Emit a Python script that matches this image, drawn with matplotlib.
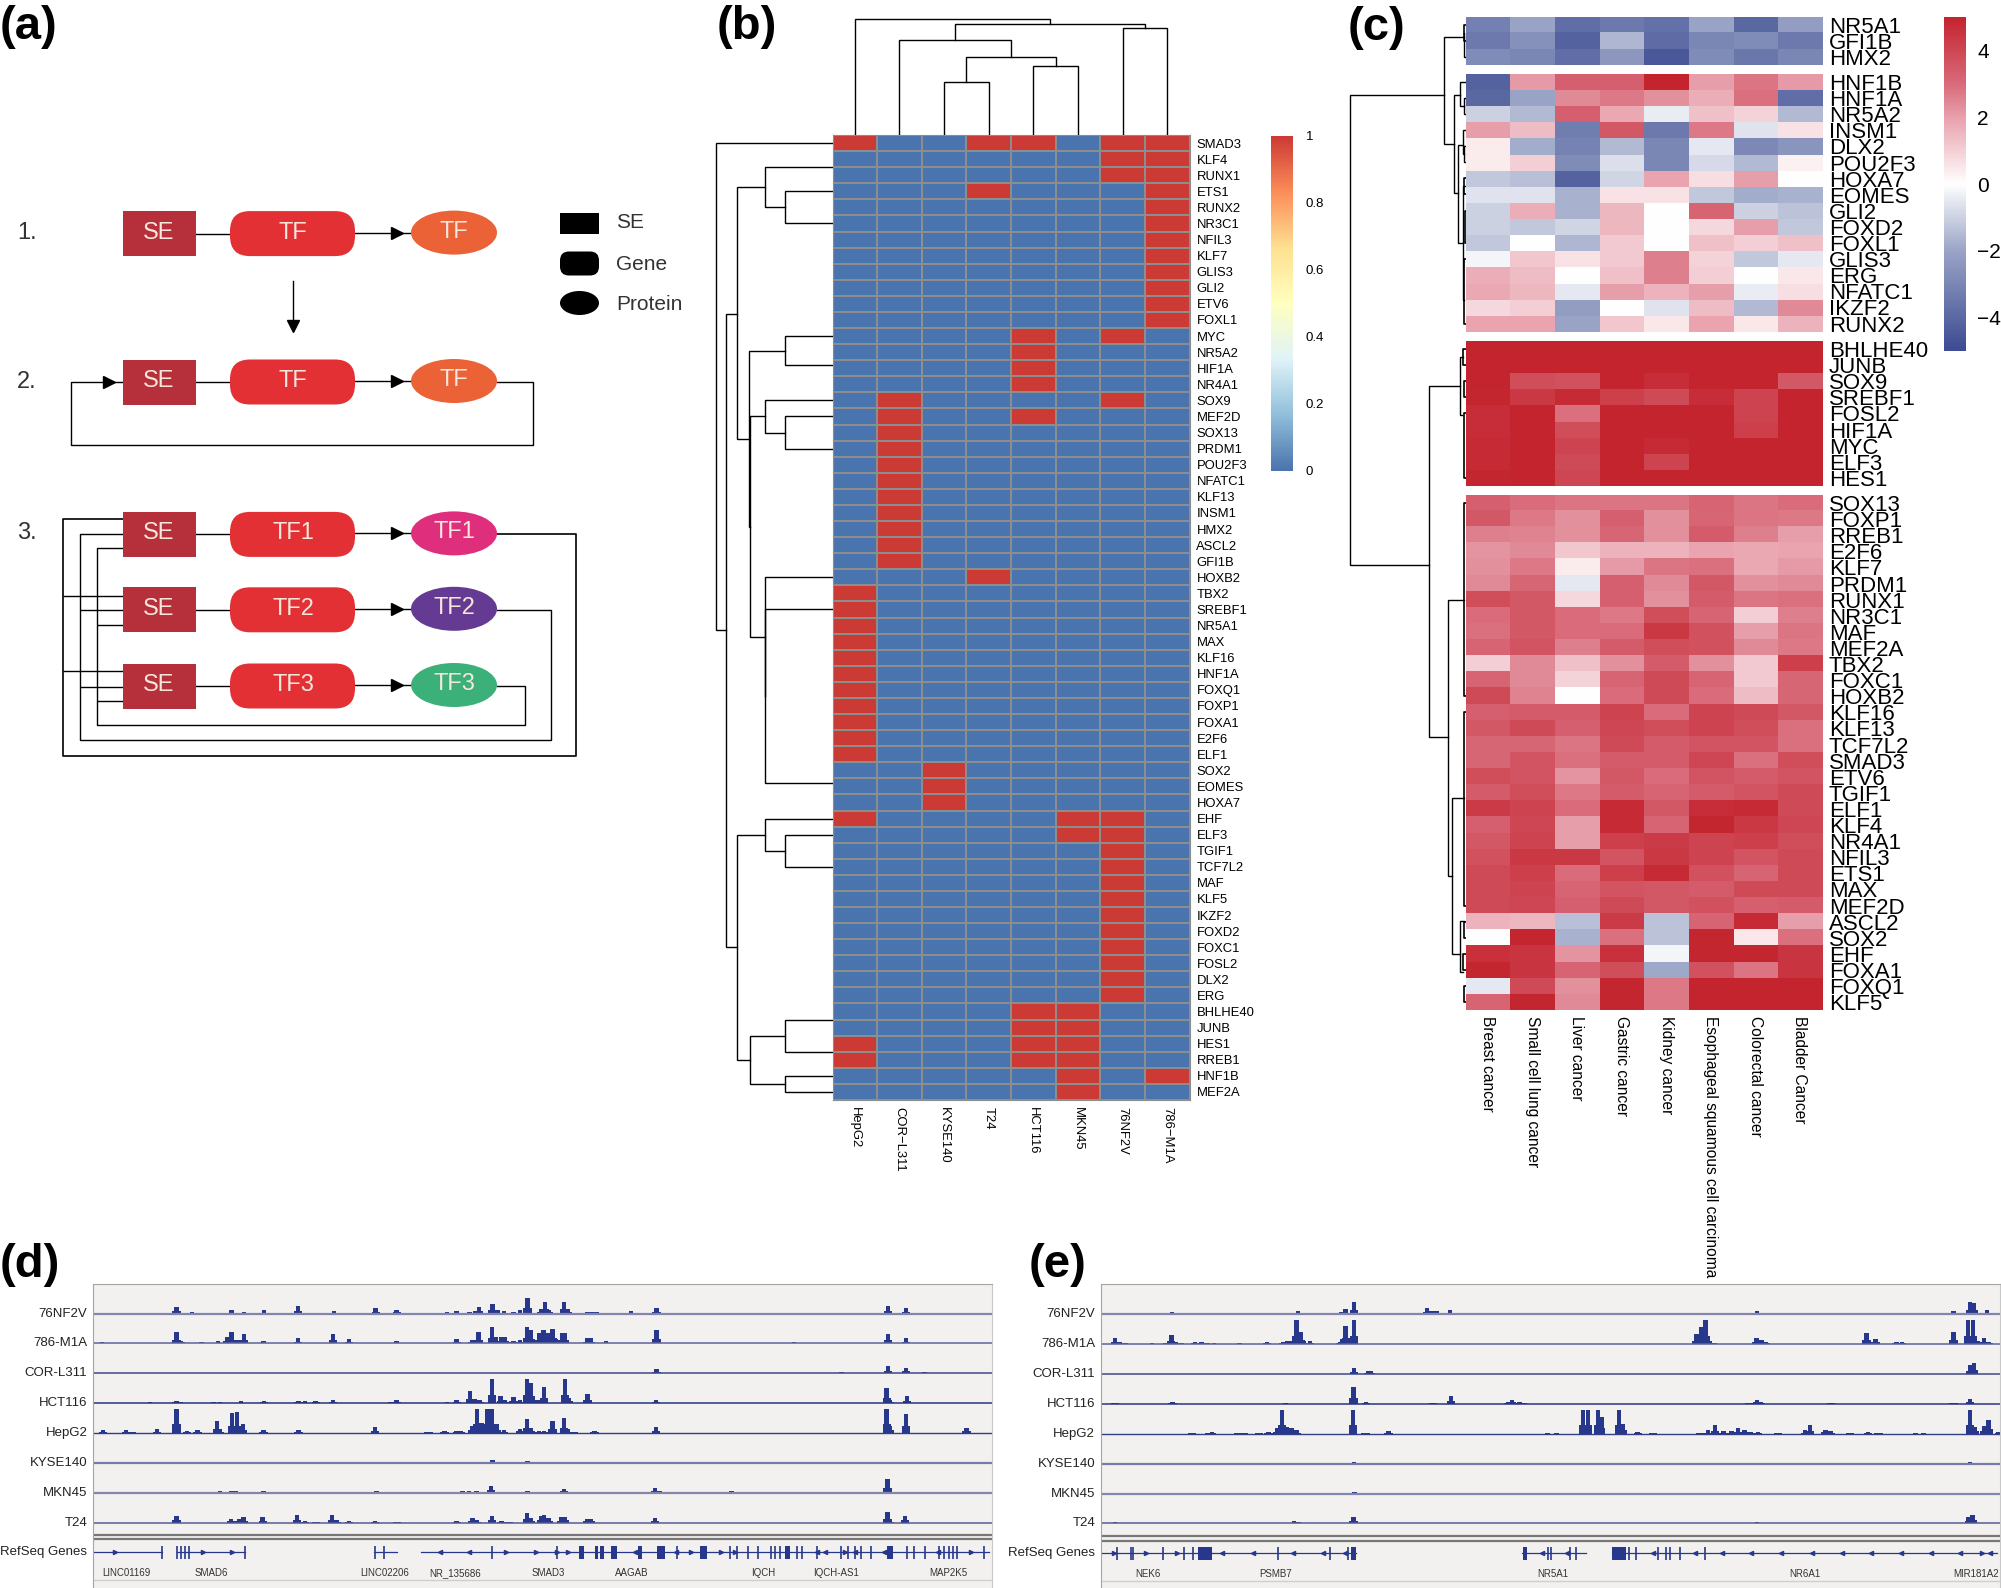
import numpy as np
import matplotlib
matplotlib.use('Agg')
import matplotlib.pyplot as plt
from matplotlib.colors import LinearSegmentedColormap
from matplotlib.patches import Rectangle, FancyBboxPatch, Ellipse

plt.rcParams['font.family'] = ['Liberation Sans', 'DejaVu Sans']

W, H = 2001, 1588

# panel b
b_cols = ['HepG2', 'COR\u2212L311', 'KYSE140', 'T24', 'HCT116', 'MKN45', '76NF2V', '786\u2212M1A']
b_rows = ['SMAD3', 'KLF4', 'RUNX1', 'ETS1', 'RUNX2', 'NR3C1', 'NFIL3', 'KLF7', 'GLIS3', 'GLI2', 'ETV6', 'FOXL1',
          'MYC', 'NR5A2', 'HIF1A', 'NR4A1', 'SOX9', 'MEF2D', 'SOX13', 'PRDM1', 'POU2F3', 'NFATC1', 'KLF13', 'INSM1',
          'HMX2', 'ASCL2', 'GFI1B', 'HOXB2', 'TBX2', 'SREBF1', 'NR5A1', 'MAX', 'KLF16', 'HNF1A', 'FOXQ1', 'FOXP1',
          'FOXA1', 'E2F6', 'ELF1', 'SOX2', 'EOMES', 'HOXA7', 'EHF', 'ELF3', 'TGIF1', 'TCF7L2', 'MAF', 'KLF5', 'IKZF2',
          'FOXD2', 'FOXC1', 'FOSL2', 'DLX2', 'ERG', 'BHLHE40', 'JUNB', 'HES1', 'RREB1', 'HNF1B', 'MEF2A']
b_on = ['10011011', '00000011', '00000011', '00010001', '00000001', '00000001', '00000001', '00000001', '00000001',
        '00000001', '00000001', '00000001', '00001010', '00001000', '00001000', '00001000', '01000010', '01001000',
        '01000000', '01000000', '01000000', '01000000', '01000000', '01000000', '01000000', '01000000', '01000000',
        '00010000', '10000000', '10000000', '10000000', '10000000', '10000000', '10000000', '10000000', '10000000',
        '10000000', '10000000', '10000000', '00100000', '00100000', '00100000', '10000110', '00000110', '00000010',
        '00000010', '00000010', '00000010', '00000010', '00000010', '00000010', '00000010', '00000010', '00000010',
        '00001100', '00001100', '10001100', '10001100', '00000101', '00000100']
b_cbar_ticks = [0, 0.2, 0.4, 0.6, 0.8, 1]
b_cbar_labels = ['0', '0.2', '0.4', '0.6', '0.8', '1']

# (pos a, dist a, pos b, dist b, dist)
b_top_merges = [(2.5, 0, 3.5, 0, 53), (4.5, 0, 5.5, 0, 69), (3, 53, 5, 69, 78), (1.5, 0, 4, 78, 95),
                (6.5, 0, 7.5, 0, 107), (2.75, 95, 7, 107, 111), (0.5, 0, 4.875, 111, 116)]
b_left_merges = [(3.5, 0, 5.5, 0, 47.6), (2, 0, 4.5, 47.6, 67.3), (12.5, 0, 14.3, 0, 47.6), (17.5, 0, 19.5, 0, 47.6),
                 (16.5, 0, 18.5, 47.6, 67.3), (29.5, 0, 40.3, 0, 67.3), (27.5, 0, 34.9, 67.3, 67.3),
                 (17.5, 67.3, 31.2, 67.3, 83), (13.4, 47.6, 24.35, 83, 84), (3.25, 67.3, 18.9, 84, 95.5),
                 (43.5, 0, 45.5, 0, 47.6), (42.5, 0, 44.5, 47.6, 67.3), (55, 0, 57, 0, 47.6), (58.5, 0, 59.5, 0, 47.6),
                 (56, 47.6, 59, 47.6, 83), (43.5, 67.3, 57.5, 83, 95.5), (11.1, 95.5, 50.5, 95.5, 106.5),
                 (0.5, 0, 30.8, 106.5, 116.6)]

# panel c
c_cols = ['Breast cancer', 'Small cell lung cancer', 'Liver cancer', 'Gastric cancer', 'Kidney cancer',
          'Esophageal squamous cell carcinoma', 'Colorectal cancer', 'Bladder Cancer']
c_rows1 = ['NR5A1', 'GFI1B', 'HMX2']
c_vals1 = [[-3.2, -2.0, -3.8, -3.4, -3.7, -2.0, -4.0, -2.2],
           [-3.4, -2.6, -4.2, -1.6, -3.9, -3.0, -2.8, -3.4],
           [-2.8, -3.0, -3.8, -2.4, -4.5, -2.8, -3.5, -3.0]]
c_rows2 = ['HNF1B', 'HNF1A', 'NR5A2', 'INSM1', 'DLX2', 'POU2F3', 'HOXA7', 'EOMES', 'GLI2', 'FOXD2', 'FOXL1', 'GLIS3',
           'ERG', 'NFATC1', 'IKZF2', 'RUNX2']
c_vals2 = [[-4.2, 2.1, 3.3, 3.3, 5.0, 2.0, 2.8, 2.1],
           [-4.0, -2.0, 2.4, 2.7, 2.3, 1.7, 2.9, -3.8],
           [-1.0, -1.5, 3.3, 1.8, -0.4, 1.3, 0.9, -1.5],
           [2.0, 1.4, -3.3, 3.5, -3.4, 2.7, -0.6, 0.6],
           [0.4, -1.8, -3.1, -1.5, -3.0, -0.5, -2.9, -2.5],
           [0.4, 1.0, -2.8, -0.7, -3.0, -0.8, -1.5, 0.3],
           [-1.2, -1.4, -4.2, -0.9, 1.9, 0.7, 2.0, 0.0],
           [-0.6, -0.6, -1.7, 0.6, 0.6, -1.2, -1.8, -1.7],
           [-1.0, 1.7, -1.7, 1.5, 0.0, 3.2, -1.0, -1.3],
           [-1.0, -1.2, -0.9, 1.5, 0.0, 0.8, 2.0, -1.2],
           [-1.2, 0.0, -1.6, 1.1, 0.0, 1.3, 1.0, 1.3],
           [-0.2, 1.2, 0.6, 1.1, 2.6, 0.9, -1.2, -0.5],
           [1.7, 1.4, 0.0, 1.3, 2.6, 1.0, 0.0, 0.5],
           [1.8, 1.5, -0.5, 2.0, 1.6, 2.0, -0.4, 0.7],
           [0.8, 1.0, -2.2, 0.0, -0.6, 1.4, -1.5, 2.4],
           [1.9, 1.9, -2.0, 1.2, 0.5, 1.9, 0.5, 1.6]]
c_rows3 = ['BHLHE40', 'JUNB', 'SOX9', 'SREBF1', 'FOSL2', 'HIF1A', 'MYC', 'ELF3', 'HES1']
c_vals3 = [[5, 5, 5, 5, 5, 5, 5, 5],
           [5, 5, 5, 5, 5, 5, 5, 5],
           [5, 3.8, 3.7, 5, 4.7, 5, 5, 3.5],
           [4.9, 4.4, 4.8, 4.2, 3.9, 4.7, 4.1, 5],
           [4.7, 5, 2.9, 5, 5, 5, 4.1, 5],
           [4.7, 5, 3.8, 5, 5, 5, 4.2, 5],
           [4.8, 5, 4.1, 5, 4.8, 5, 5, 5],
           [4.8, 5, 3.9, 5, 4.1, 5, 5, 5],
           [4.9, 5, 4.0, 5, 5, 5, 5, 5]]
c_rows4 = ['SOX13', 'FOXP1', 'RREB1', 'E2F6', 'KLF7', 'PRDM1', 'RUNX1', 'NR3C1', 'MAF', 'MEF2A', 'TBX2', 'FOXC1',
           'HOXB2', 'KLF16', 'KLF13', 'TCF7L2', 'SMAD3', 'ETV6', 'TGIF1', 'ELF1', 'KLF4', 'NR4A1', 'NFIL3', 'ETS1',
           'MAX', 'MEF2D', 'ASCL2', 'SOX2', 'EHF', 'FOXA1', 'FOXQ1', 'KLF5']
c_vals4 = [[3.3, 3.0, 2.8, 2.8, 2.8, 3.2, 2.8, 3.0],
           [3.5, 2.7, 2.3, 3.3, 2.3, 3.1, 2.8, 2.7],
           [2.6, 2.5, 2.3, 3.1, 2.3, 3.4, 2.6, 2.0],
           [2.2, 2.4, 1.2, 1.6, 1.6, 1.9, 1.8, 1.9],
           [2.3, 2.7, 0.4, 2.1, 2.8, 2.9, 1.8, 2.1],
           [2.4, 3.1, -0.5, 3.3, 2.4, 3.5, 2.3, 2.4],
           [3.8, 3.5, 0.8, 3.3, 2.3, 3.4, 2.8, 2.9],
           [3.0, 3.5, 3.0, 2.7, 3.8, 3.2, 1.0, 2.6],
           [2.9, 3.5, 3.0, 3.0, 4.4, 3.7, 2.0, 2.8],
           [3.2, 3.6, 2.6, 3.4, 3.8, 3.7, 2.4, 2.7],
           [1.0, 2.4, 1.3, 2.3, 3.4, 2.3, 1.1, 4.2],
           [3.2, 2.4, 0.9, 3.2, 3.9, 3.2, 1.1, 3.1],
           [3.9, 2.5, 0.0, 3.0, 3.9, 3.0, 1.4, 3.1],
           [3.3, 3.4, 3.4, 4.1, 3.0, 4.1, 3.9, 3.5],
           [3.5, 3.9, 3.3, 4.0, 3.8, 4.1, 3.8, 2.9],
           [3.1, 3.1, 2.8, 3.9, 3.4, 3.6, 3.6, 2.9],
           [3.1, 3.6, 2.9, 3.4, 3.4, 4.0, 2.9, 3.8],
           [3.8, 3.6, 2.2, 3.5, 3.0, 3.6, 3.4, 3.6],
           [3.4, 3.8, 2.7, 3.4, 3.2, 3.4, 3.6, 3.9],
           [4.3, 4.1, 3.0, 4.8, 3.5, 4.7, 4.8, 3.9],
           [3.3, 4.0, 2.0, 4.8, 3.2, 4.9, 4.4, 4.0],
           [3.5, 4.1, 2.0, 4.2, 4.3, 4.1, 4.2, 3.8],
           [3.7, 4.4, 4.4, 3.6, 4.4, 4.1, 3.6, 3.9],
           [3.9, 4.2, 3.0, 4.2, 4.8, 3.7, 3.2, 3.9],
           [3.9, 4.1, 3.2, 3.6, 3.5, 3.4, 3.9, 3.9],
           [3.9, 4.0, 3.3, 3.9, 3.5, 3.7, 3.3, 3.4],
           [1.6, 1.5, -1.4, 4.3, -1.3, 3.2, 4.8, 2.0],
           [0.0, 4.9, -1.7, 2.9, -1.3, 4.9, 0.5, 2.9],
           [4.6, 4.5, 2.2, 4.6, -0.2, 4.9, 4.9, 4.5],
           [4.9, 4.5, 3.2, 3.8, -1.9, 3.7, 2.8, 4.5],
           [-0.5, 3.9, 2.3, 4.9, 2.7, 5.0, 5.0, 5.0],
           [3.2, 4.9, 2.4, 4.9, 2.7, 5.0, 5.0, 5.0]]
c_cbar_ticks = [-4, -2, 0, 2, 4]

c_merges = [(33, 1.5, 57, 0, 2), (37.3, 2, 143.7, 12, 22), (82, 0, 106, 2, 5.5), (98, 0, 114, 0, 2),
            (130, 0, 154, 1.5, 3), (146, 0, 162, 0, 1.5), (95, 5.5, 193, 7.5, 12), (145, 3, 243, 3, 7.5),
            (186, 0, 300, 2, 3), (94.7, 22, 565.4, 37, 116), (357, 2.5, 415, 3.5, 5.5), (386, 5.5, 737, 18, 37),
            (600, 1.5, 875.7, 14, 18), (797.5, 1.5, 954, 5.5, 14), (921, 1.5, 972, 2.5, 5.5)]
# (first pos, last pos, dist)
c_combs = [(25, 41, 1.5), (178, 194, 1.5), (211, 243, 1), (259, 324, 2), (349, 365, 2.5), (381, 397, 2),
           (413, 478, 1.5), (503, 696, 1.5), (712, 906, 1.5), (922, 938, 1.5), (954, 970, 2.5), (986, 1002, 2)]

# panel d, peaks as (position, height)
d_tracks = ['76NF2V', '786-M1A', 'COR-L311', 'HCT116', 'HepG2', 'KYSE140', 'MKN45', 'T24']
d_base = [222, 311, 400, 490, 579, 668, 758, 848]
d_76nf2v = [(162, 3), (277, 20), (301, 4), (363, 10), (383, 6), (414, 10), (452, 3), (467, 22), (524, 7), (589, 16),
            (622, 11), (701, 5), (716, 9), (736, 6), (745, 8), (751, 20), (772, 30), (780, 10), (790, 8), (805, 6),
            (815, 10), (827, 48), (848, 14), (854, 36), (860, 12), (884, 36), (890, 14), (921, 6), (927, 6), (935, 4),
            (989, 7), (1029, 17), (1392, 22), (1420, 17)]
d_786m1a = [(160, 3), (277, 33), (283, 8), (316, 3), (342, 6), (357, 20), (363, 33), (374, 10), (383, 28), (413, 6),
            (467, 15), (522, 28), (547, 14), (622, 7), (716, 12), (741, 10), (750, 33), (771, 48), (778, 20), (786, 18),
            (792, 18), (805, 8), (815, 10), (826, 48), (832, 40), (845, 30), (852, 40), (858, 30), (866, 44), (872, 14),
            (881, 30), (886, 32), (920, 16), (926, 16), (950, 6), (1029, 40), (1245, 3), (1392, 28), (1420, 15)]
d_corl311 = [(1029, 11), (1319, 3), (1392, 20), (1420, 15), (1449, 3)]
d_hct116 = [(235, 4), (277, 7), (283, 4), (335, 4), (345, 4), (378, 5), (414, 6), (468, 6), (478, 5), (495, 6), (522, 9),
            (612, 4), (622, 9), (701, 4), (716, 8), (737, 37), (745, 12), (752, 10), (771, 72), (785, 20), (792, 10),
            (805, 18), (815, 8), (826, 72), (832, 60), (843, 10), (853, 48), (886, 72), (892, 16), (921, 28), (1028, 10),
            (1390, 46), (1395, 8), (1422, 22)]
d_hepg2 = [(162, 8), (198, 7), (207, 3), (246, 11), (277, 72), (293, 6), (310, 9), (340, 35), (345, 10), (364, 60),
           (372, 62), (381, 25), (413, 7), (468, 7), (588, 17), (672, 3), (697, 4), (716, 6), (723, 6), (741, 20),
           (748, 72), (755, 30), (764, 72), (771, 72), (779, 25), (790, 7), (815, 12), (826, 42), (832, 15), (845, 6),
           (853, 6), (866, 36), (884, 44), (890, 10), (900, 3), (932, 6), (1028, 16), (1390, 72), (1395, 20), (1420, 57),
           (1515, 13)]
d_kyse140 = [(275, 3), (772, 7), (778, 3), (827, 5), (882, 3), (1390, 3), (1418, 3)]
d_mkn45 = [(191, 2), (209, 2), (230, 2), (237, 2), (275, 2), (345, 4), (363, 6), (369, 4), (413, 5), (455, 3), (590, 6),
           (622, 3), (725, 4), (735, 4), (747, 5), (770, 20), (827, 4), (838, 3), (884, 10), (995, 3), (1027, 14),
           (1035, 4), (1051, 3), (1080, 2), (1147, 6), (1253, 2), (1306, 3), (1349, 3), (1391, 42), (1427, 3)]
d_t24 = [(277, 20), (362, 12), (375, 10), (382, 16), (412, 17), (466, 22), (478, 4), (495, 3), (521, 22), (528, 8),
         (547, 4), (588, 5), (623, 3), (716, 5), (741, 14), (748, 8), (771, 20), (786, 4), (798, 3), (826, 28),
         (832, 14), (848, 20), (853, 22), (860, 14), (880, 16), (886, 18), (920, 10), (926, 10), (1027, 14), (1391, 32),
         (1395, 8), (1419, 20)]
d_peaks = [d_76nf2v, d_786m1a, d_corl311, d_hct116, d_hepg2, d_kyse140, d_mkn45, d_t24]
d_gene_lines = [(147, 254), (277, 385), (587, 623), (660, 1550)]
d_exons = [254, 277, 284, 290, 296, 385, 588, 602, 772, 873, 1062, 1145, 1155, 1172, 1188, 1208, 1215, 1222, 1250, 1257,
           1280, 1318, 1330, 1340, 1350, 1365, 1422, 1432, 1450, 1472, 1480, 1488, 1494, 1500, 1543]
d_blocks = [(907, 915), (932, 938), (940, 947), (958, 968), (1000, 1006), (1030, 1042), (1098, 1108), (1230, 1238),
            (1390, 1400)]
d_right = [181, 318, 364, 793, 841, 873, 890, 1083, 1130, 1152, 1325, 1522]
d_left = [690, 736, 995, 1060, 1280, 1294, 1340, 1385, 1470]
d_genes = ['LINC01169', 'SMAD6', 'LINC02206', 'NR_135686', 'SMAD3', 'AAGAB', 'IQCH', 'IQCH-AS1', 'MAP2K5']
d_gene_x = [199, 331, 603, 713, 859, 991, 1196, 1310, 1487]

# panel e
e_base = [224, 313, 403, 492, 582, 671, 761, 850]
e_76nf2v = [(269, 6), (364, 4), (466, 10), (472, 4), (534, 6), (541, 15), (554, 38), (638, 4), (668, 20), (675, 9),
            (683, 9), (704, 13), (1096, 3), (1185, 10), (1293, 2), (1492, 10), (1518, 38), (1524, 34), (1545, 12)]
e_786m1a = [(180, 18), (188, 6), (197, 4), (238, 2), (258, 4), (268, 28), (275, 6), (285, 4), (305, 6), (315, 6), (325, 4),
            (335, 3), (375, 3), (418, 6), (443, 6), (450, 8), (460, 25), (464, 72), (470, 35), (476, 10), (485, 8),
            (530, 3), (536, 15), (541, 55), (547, 10), (554, 72), (1090, 30), (1097, 52), (1104, 72), (1110, 10),
            (1118, 3), (1184, 18), (1192, 12), (1198, 6), (1356, 34), (1362, 6), (1370, 16), (1403, 5), (1412, 5),
            (1492, 36), (1515, 72), (1523, 72), (1530, 10), (1540, 18), (1548, 6)]
e_corl311 = [(554, 19), (576, 9), (580, 9), (1518, 26), (1524, 32)]
e_hct116 = [(180, 3), (270, 4), (447, 2), (553, 50), (573, 6), (678, 3), (706, 22), (795, 6), (801, 12), (813, 5), (821, 2),
            (1172, 3), (1185, 12), (1190, 4), (1300, 3), (1492, 3), (1518, 15)]
e_hepg2 = [(300, 3), (327, 3), (332, 6), (372, 3), (381, 3), (405, 3), (420, 6), (434, 18), (441, 72), (448, 20), (456, 16),
           (464, 10), (552, 72), (572, 3), (608, 9), (857, 2), (871, 2), (912, 72), (920, 72), (936, 72), (941, 50),
           (969, 72), (975, 30), (998, 5), (1022, 3), (1096, 3), (1108, 10), (1119, 25), (1132, 8), (1145, 8), (1155, 16),
           (1165, 12), (1175, 4), (1186, 6), (1218, 3), (1260, 10), (1268, 25), (1292, 12), (1300, 8), (1330, 3),
           (1358, 5), (1375, 3), (1433, 2), (1445, 2), (1518, 72), (1525, 20), (1540, 24), (1547, 40), (1563, 6)]
e_kyse140 = [(554, 5), (1518, 6), (1526, 3)]
e_mkn45 = [(555, 5), (683, 3), (862, 3)]
e_t24 = [(180, 3), (268, 2), (460, 6), (467, 5), (553, 20), (1185, 3), (1360, 2), (1516, 18), (1522, 24)]
e_peaks = [e_76nf2v, e_786m1a, e_corl311, e_hct116, e_hepg2, e_kyse140, e_mkn45, e_t24]
e_gene_lines = [(160, 332), (332, 557), (817, 917), (958, 1560)]
e_exons = [183, 205, 208, 255, 288, 302, 435, 516, 544, 857, 863, 892, 902, 984, 995, 1030, 1042, 1048, 1064, 1104]
e_blocks = [(310, 332), (550, 557), (818, 825), (958, 980)]
e_right = [178, 229, 277, 1537]
e_left = [348, 396, 459, 506, 540, 848, 888, 1022, 1088, 1130, 1176, 1223, 1270, 1317, 1363, 1410, 1457, 1503, 1550]
e_genes = ['NEK6', 'PSMB7', 'NR5A1', 'NR6A1', 'MIR181A2']
e_gene_x = [231, 431, 865, 1260, 1527]

track_colors = ['#8485ad', '#5f649c', '#3f4889', '#2b3580', '#333d85', '#777aa5', '#8485ad', '#555b95']
track_widths = [1.6, 1.1, 1.1, 1.1, 1.0, 1.6, 1.6, 1.1]

# panel a
a_rows = [233.6, 382, 534.4, 609.8, 686]
a_tf_names = ['TF', 'TF', 'TF1', 'TF2', 'TF3']
a_tf_colors = ['#ec6237', '#ec6237', '#df2f7c', '#653a92', '#3bb078']


def px_axes(x0, y0, x1, y1):
    return fig.add_axes([x0 / W, 1 - y1 / H, (x1 - x0) / W, (y1 - y0) / H])


def draw_merges(ax, merges, horizontal):
    for a, da, b, db, d in merges:
        xs = [da, d, d, db]
        ys = [a, a, b, b]
        if horizontal:
            ax.plot(xs, ys, color='black', lw=1, solid_joinstyle='miter')
        else:
            ax.plot(ys, xs, color='black', lw=1, solid_joinstyle='miter')


def draw_track_panel(x0, x1, xlim, base, peaks, gene_lines, exons, blocks, right, left, genes, gene_x,
                     div1, div2, gene_y, label_y, low_y):
    ax = px_axes(x0, 1284, x1, H)
    ax.set_xlim(*xlim)
    ax.set_ylim(1044, 133)
    ax.set_facecolor('#f2f1ef')
    ax.set_xticks([])
    ax.set_yticks([])
    ax.spines['bottom'].set_visible(False)
    for s in ['top', 'left']:
        ax.spines[s].set_color('#a5a5a5')
    ax.spines['right'].set_color('#c8c8c8')
    for i, name in enumerate(d_tracks):
        xs = [p[0] for p in peaks[i]]
        hs = [-p[1] for p in peaks[i]]
        # stepped look: narrow top block on a wider foot
        ax.bar(xs, hs, width=7, bottom=base[i], color='#27388c', linewidth=0)
        ax.bar(xs, [h * 0.35 for h in hs], width=13, bottom=base[i], color='#27388c', linewidth=0)
        ax.axhline(base[i], color=track_colors[i], lw=track_widths[i])
        ax.text(xlim[0] - 9, base[i], name, ha='right', va='center', fontsize=9.5, color='#222222', clip_on=False)
    ax.axhline(div1, color='#777777', lw=1.6)
    ax.axhline(div2, color='#777777', lw=1.6)
    ax.axhline(low_y, color='#cfcfcf', lw=1)
    ax.text(xlim[0] - 9, gene_y, 'RefSeq Genes', ha='right', va='center', fontsize=9.5, color='#222222', clip_on=False)
    for a, b in gene_lines:
        ax.plot([a, b], [gene_y, gene_y], color='#27388c', lw=0.9)
    ax.vlines(exons, gene_y - 20, gene_y + 20, color='#27388c', lw=1.2)
    for a, b in blocks:
        ax.fill_between([a, b], gene_y - 20, gene_y + 20, color='#27388c', lw=0)
    ax.plot(right, [gene_y] * len(right), ls='', marker='>', ms=3, color='#27388c')
    ax.plot(left, [gene_y] * len(left), ls='', marker='<', ms=3, color='#27388c')
    for g, x in zip(genes, gene_x):
        ax.text(x, label_y, g, ha='center', va='center', fontsize=7, color='#333333')


fig = plt.figure(figsize=(W / 100, H / 100), dpi=100)

# schematic and panel letters live on a pixel canvas
bg = px_axes(0, 0, W, H)
bg.set_xlim(0, W)
bg.set_ylim(H, 0)
bg.axis('off')

for label, x, y in [('(a)', 0, 27), ('(b)', 717, 27), ('(c)', 1348, 28), ('(d)', 0, 1265), ('(e)', 1029, 1265)]:
    bg.text(x, y, label, fontsize=34, fontweight='bold', ha='left', va='center')

for label, y in [('1.', 233), ('2.', 382), ('3.', 533)]:
    bg.text(17, y, label, fontsize=17, color='#333333', ha='left', va='center')

for i, y in enumerate(a_rows):
    bg.plot([195, 230], [y, y], color='black', lw=1)
    bg.plot([355, 411], [y - 1, y - 1], color='black', lw=1)
    bg.plot([397], [y - 1], marker='>', ms=9, color='black', ls='')
    bg.add_patch(Rectangle((123, y - 22.5), 73, 45, fc='#b5303a', ec='none', zorder=3))
    bg.add_patch(FancyBboxPatch((230, y - 22.5), 125, 45, boxstyle='round,pad=0,rounding_size=20',
                                fc='#e33035', ec='none', zorder=3))
    bg.add_patch(Ellipse((454, y - 1), 86, 44, fc=a_tf_colors[i], ec='none', zorder=3))
    bg.text(159, y - 1, 'SE', color='#f6e6dc', fontsize=17, ha='center', va='center', zorder=4)
    bg.text(293, y - 1, a_tf_names[i], color='#f6e6dc', fontsize=17, ha='center', va='center', zorder=4)
    bg.text(454, y - 2, a_tf_names[i], color='#f6e6dc', fontsize=17, ha='center', va='center', zorder=4)

bg.plot([293, 293], [281, 325], color='black', lw=1)
bg.plot([293], [326], marker='v', ms=9, color='black', ls='')
bg.plot([497, 533, 533, 71, 71, 123], [382, 382, 445, 445, 382, 382], color='black', lw=1)
bg.plot([109], [382], marker='>', ms=9, color='black', ls='')

bg.plot([497, 576, 576, 63, 63, 123], [534, 534, 756, 756, 519, 519], color='black', lw=1.2)
bg.plot([497, 551, 551, 79.5, 79.5, 123], [610, 610, 740, 740, 534, 534], color='black', lw=1)
bg.plot([497, 524.5, 524.5, 97, 97, 123], [686, 686, 725, 725, 548, 548], color='black', lw=1)
bg.hlines([596, 671], 63, 123, color='black', lw=1)
bg.hlines([610, 687], 79.5, 123, color='black', lw=1)
bg.hlines([625, 700.5], 97, 123, color='black', lw=1)

bg.add_patch(Rectangle((560, 212.5), 39, 21.5, fc='black', ec='none'))
bg.add_patch(FancyBboxPatch((560, 251.5), 39, 24, boxstyle='round,pad=0,rounding_size=9', fc='black', ec='none'))
bg.add_patch(Ellipse((579.5, 303), 39, 24, fc='black', ec='none'))
for label, y in [('SE', 223), ('Gene', 265), ('Protein', 304)]:
    bg.text(616, y, label, fontsize=15, color='#333333', ha='left', va='center')

# panel b heatmap
b_cmap = LinearSegmentedColormap.from_list('b', ['#4a74ad', '#91bfdb', '#e0f3f8', '#ffffbf', '#fee090', '#fc8d59', '#cb3a34'])
b_matrix = np.array([[int(c) for c in row] for row in b_on])
ax_b = px_axes(832.5, 135, 1189.5, 1100)
mesh = ax_b.pcolormesh(b_matrix, cmap=b_cmap, vmin=0, vmax=1, edgecolors='#8d8d8d', linewidth=1.1)
ax_b.set_ylim(60, 0)
ax_b.set_xlim(0, 8)
ax_b.set_yticks(np.arange(60) + 0.5, b_rows, fontsize=9.4)
ax_b.yaxis.tick_right()
ax_b.set_xticks(np.arange(8) + 0.5, b_cols, fontsize=9.4, rotation=270)
ax_b.tick_params(length=0, pad=5)
for s in ax_b.spines.values():
    s.set_color('#8d8d8d')

ax_bt = px_axes(832.5, 15, 1189.5, 135)
draw_merges(ax_bt, b_top_merges, False)
ax_bt.set_xlim(0, 8)
ax_bt.set_ylim(0, 120)
ax_bt.axis('off')

ax_bl = px_axes(712.5, 135, 832.5, 1100)
draw_merges(ax_bl, b_left_merges, True)
ax_bl.set_xlim(120, 0)
ax_bl.set_ylim(60, 0)
ax_bl.axis('off')

cax_b = px_axes(1271, 136, 1293, 470.5)
cb = fig.colorbar(mesh, cax=cax_b, ticks=b_cbar_ticks)
cb.ax.set_yticklabels(b_cbar_labels, fontsize=9.5)
cb.ax.tick_params(length=0, pad=9)
cb.outline.set_visible(False)

# panel c heatmap
c_cmap = LinearSegmentedColormap.from_list('c', [(0, '#3c4b92'), (0.3, '#9aa4c6'), (0.5, '#ffffff'), (0.7, '#e8a0ac'),
                                                 (0.8, '#d96b7a'), (1, '#c4242e')])
groups = [(c_rows1, c_vals1, 17), (c_rows2, c_vals2, 74), (c_rows3, c_vals3, 341), (c_rows4, c_vals4, 495)]
for k, (rows, vals, top) in enumerate(groups):
    ax_c = px_axes(1465.5, top, 1822, top + 16.1 * len(rows))
    im = ax_c.imshow(np.array(vals), cmap=c_cmap, vmin=-5, vmax=5, aspect='auto', interpolation='nearest')
    ax_c.set_yticks(np.arange(len(rows)), rows, fontsize=16)
    ax_c.yaxis.tick_right()
    ax_c.tick_params(length=0, pad=5)
    if k == 3:
        ax_c.set_xticks(np.arange(8), c_cols, fontsize=11.2, rotation=270)
        ax_c.tick_params(axis='x', pad=4)
    else:
        ax_c.set_xticks([])
    for s in ax_c.spines.values():
        s.set_visible(False)

ax_cl = px_axes(1345.5, 17, 1465.5, 1011)
draw_merges(ax_cl, c_merges, True)
for a, b, d in c_combs:
    ax_cl.plot([0, d, d, 0], [a, a, b, b], color='black', lw=1.2)
ax_cl.set_xlim(120, 0)
ax_cl.set_ylim(1011, 17)
ax_cl.axis('off')

cax_c = px_axes(1944, 17, 1966, 351)
cb2 = fig.colorbar(im, cax=cax_c, ticks=c_cbar_ticks)
cb2.ax.tick_params(length=0, pad=8, labelsize=15)
cb2.outline.set_visible(False)

# tracks
draw_track_panel(93, 992, (146, 1555), d_base, d_peaks, d_gene_lines, d_exons, d_blocks, d_right, d_left,
                 d_genes, d_gene_x, 885, 898, 937, 1000, 1020)
draw_track_panel(1101, 2000, (158, 1565), e_base, e_peaks, e_gene_lines, e_exons, e_blocks, e_right, e_left,
                 e_genes, e_gene_x, 888, 902, 940, 1003, 1024)

fig.savefig('out.png', dpi=100)
